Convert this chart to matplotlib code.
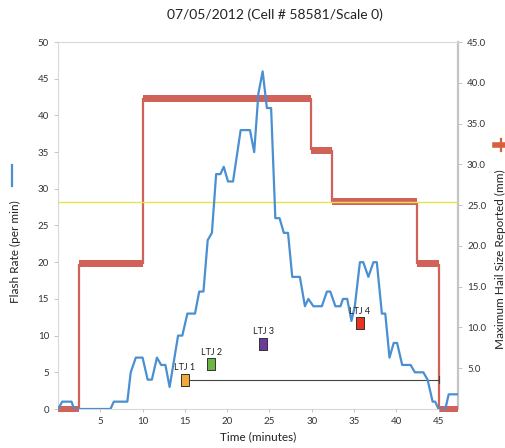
import matplotlib
matplotlib.use("Agg")
import matplotlib.pyplot as plt
from matplotlib.lines import Line2D
import numpy as np

plt.rcParams['font.family'] = ['Lato', 'DejaVu Sans']

# Flash rate (per min) vs time (minutes)
flash_time = [0, 0.5, 1.6, 1.9, 6.2, 6.6, 8.2, 8.6, 9.2, 10.0, 10.6, 11.1, 11.7, 12.2, 12.7,
              13.2, 14.2, 14.7, 15.3, 16.2, 16.7, 17.2, 17.7, 18.2, 18.7, 19.2, 19.6, 20.1,
              20.7, 21.6, 22.7, 23.2, 23.7, 24.2, 24.7, 25.2, 25.7, 26.2, 26.7, 27.2, 27.7,
              28.6, 29.2, 29.6, 30.2, 31.2, 31.8, 32.2, 32.8, 33.4, 33.7, 34.2, 34.7, 35.1,
              35.7, 36.1, 36.7, 37.3, 37.7, 38.3, 38.7, 39.2, 39.7, 40.1, 40.7, 41.7, 42.2,
              43.2, 43.7, 44.3, 44.6, 45.0, 45.8, 46.2, 47.3]
flash_rate = [0, 1, 1, 0, 0, 1, 1, 5, 7, 7, 4, 4, 7, 6, 6,
              3, 10, 10, 13, 13, 16, 16, 23, 24, 32, 32, 33, 31,
              31, 38, 38, 35, 43, 46, 41, 41, 26, 26, 24, 24, 18,
              18, 14, 15, 14, 14, 16, 16, 14, 14, 15, 15, 12, 14,
              20, 20, 18, 20, 20, 13, 13, 7, 9, 9, 6, 6, 5,
              5, 4, 1, 1, 0, 0, 2, 2]

# Maximum hail size reported (mm), step segments
hail_start = [0, 2.5, 10.0, 29.9, 32.4, 42.4, 45.0]
hail_end = [2.5, 10.0, 29.9, 32.4, 42.4, 45.0, 47.3]
hail_size = [0, 17.8, 38.1, 31.75, 25.4, 17.8, 0]

threshold_mm = 25.4

# Lightning jumps
ltj_labels = ["LTJ 1", "LTJ 2", "LTJ 3", "LTJ 4"]
ltj_time = [15.0, 18.1, 24.3, 35.7]
ltj_rate = [4.0, 6.1, 8.9, 11.7]
ltj_colors = ["#f2a93b", "#6cb545", "#6a3d9a", "#e8341f"]
ltj1_span_end = 45.0

fig = plt.figure(figsize=(5.06, 4.48), dpi=100)
ax1 = fig.add_axes([58/506, 1-409/448, 400/506, 367/448])
ax2 = ax1.twinx()
ax1.set_zorder(ax2.get_zorder() + 1)
ax1.patch.set_visible(False)

red = "#d0625a"
# Hail: thin connectors between consecutive bars + thick bars
for i in range(len(hail_size) - 1):
    ax2.plot([hail_end[i], hail_start[i + 1]], [hail_size[i], hail_size[i + 1]],
             color=red, lw=1.6, zorder=2, solid_capstyle='butt')
widths = [e - s for s, e in zip(hail_start, hail_end)]
ax2.barh(hail_size, widths, left=hail_start, height=0.85, color=red, linewidth=0,
         zorder=3, clip_on=False)
ax2.axhline(threshold_mm, color="#e6e34f", lw=1.0, zorder=4)

# Flash rate
ax1.plot(flash_time, flash_rate, color="#4a8fd2", lw=1.6, zorder=3)

# LTJ1 span
ax1.plot([ltj_time[0], ltj1_span_end], [ltj_rate[0], ltj_rate[0]], color="#444444", lw=0.8, zorder=2)
ax1.plot([ltj1_span_end, ltj1_span_end], [ltj_rate[0]-0.5, ltj_rate[0]+0.5], color="#444444", lw=0.8, zorder=2)

rect = [(-0.7, -1), (0.7, -1), (0.7, 1), (-0.7, 1), (-0.7, -1)]
for lab, t, r, c in zip(ltj_labels, ltj_time, ltj_rate, ltj_colors):
    ax1.plot([t], [r], marker=rect, markersize=8.5, color=c, markeredgecolor="#333333",
             markeredgewidth=0.7, linestyle="none", zorder=5)
    ax1.text(t, r + 1.0, lab, fontsize=6.5, ha="center", va="bottom", color="#222222", zorder=6)

ax1.set_xlim(0, 47.3)
ax1.set_ylim(0, 50)
ax2.set_ylim(0, 45)

ax1.set_xticks(np.arange(5, 46, 5))
ax1.set_yticks(np.arange(0, 51, 5))
ax2.set_yticks(np.arange(5, 46, 5))
ax2.set_yticklabels([f"{v:.1f}" for v in np.arange(5, 46, 5)])

for a in (ax1, ax2):
    a.tick_params(labelsize=7, colors="#333333", length=3, width=0.6)
    for sp in a.spines.values():
        sp.set_color("#d9d9d9")
        sp.set_linewidth(0.8)
for sp in ax1.spines.values():
    sp.set_visible(False)
ax1.tick_params(axis='x', color="#bbbbbb", length=2)
ax1.tick_params(axis='y', color="#bbbbbb")
ax2.tick_params(axis='y', color="#bbbbbb")
ax2.spines['right'].set_color("#c4c4c4")
ax2.spines['right'].set_linewidth(1.6)

fig.text(275/506, 1-15/448, "07/05/2012 (Cell # 58581/Scale 0)", ha="center", va="center", fontsize=10, color="#222222")
fig.text(258/506, 1-437/448, "Time (minutes)", ha="center", va="center", fontsize=8.5, color="#222222")

fig.text(15/506, 1-252/448, "Flash Rate (per min)", rotation=90, ha="center", va="center", fontsize=8.5, color="#222222")
fig.add_artist(Line2D([12/506, 12/506], [1-165/448, 1-186/448], color="#4a8fd2", lw=1.6))

fig.text(500/506, 1-259/448, "Maximum Hail Size Reported (mm)", rotation=90, ha="center", va="center", fontsize=8.5, color="#222222")
fig.add_artist(Line2D([501/506, 501/506], [1-139/448, 1-151/448], color="#d4603c", lw=1.6))
fig.add_artist(Line2D([495/506, 507/506], [1-145/448, 1-145/448], color="#d4603c", lw=4))

fig.savefig("out.png", dpi=100)
